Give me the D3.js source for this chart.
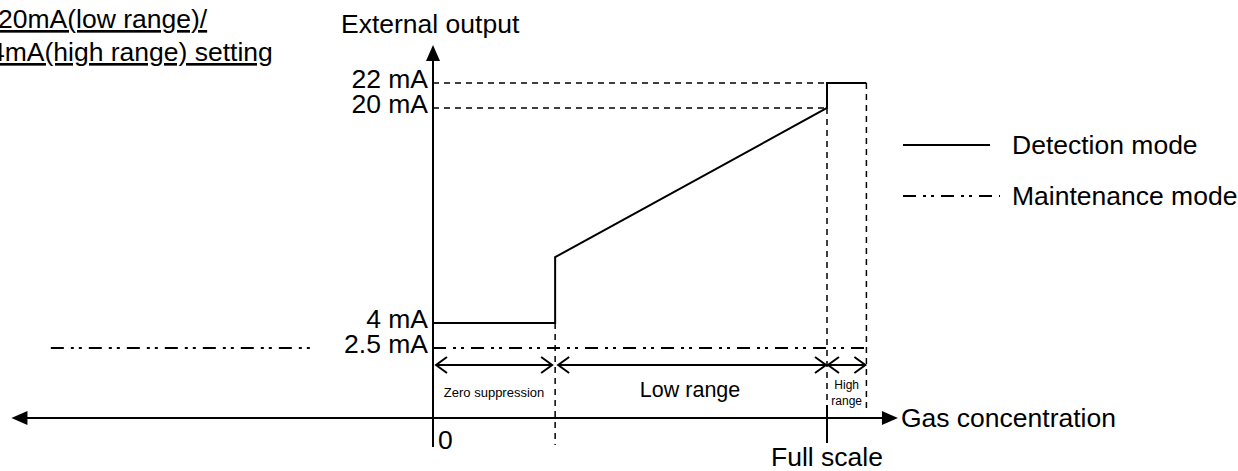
<!DOCTYPE html>
<html>
<head>
<meta charset="utf-8">
<script src="https://cdn.jsdelivr.net/npm/d3@7"></script>
<style>
html,body{margin:0;padding:0;background:#fff;}
svg{display:block;font-family:"Liberation Sans",Arial,sans-serif;}
</style>
</head>
<body>
<svg id="chart" width="1238" height="471"></svg>
<script>
// ---- data ----
const detectionConc = [0, 31, 31, 100, 100, 110];
const detectionMA   = [4, 4, 8.9, 20, 22, 22];
const maintenanceConc = [0, 110];
const maintenanceMA   = [2.5, 2.5];
const maintenanceLeftConc = [-97, -30];
const yTickValues = [22, 20, 4, 2.5];
const yTickLabels = ["22 mA", "20 mA", "4 mA", "2.5 mA"];
const zeroSuppressionEnd = 31;
const fullScale = 100;
const highRangeEnd = 110;
const rangeLabels = ["Zero suppression", "Low range", "High", "range"];
const legendLabels = ["Detection mode", "Maintenance mode"];

// ---- layout ----
const svg = d3.select("#chart");
const x = d3.scaleLinear().domain([0, 100]).range([433, 827]);
const y = d3.scaleLinear().domain([0, 2.5, 4, 20, 22]).range([418, 348, 323, 108, 83]);
const xAxisMin = -107, xAxisMax = 118;
const dashDot = "13,7,3,5,3,7";
const dash = "6,5";
const stroke = "#000";
const fs = 26.5;

const line = d3.line().x(d => x(d[0])).y(d => y(d[1]));

// top-left underlined note (clipped at left edge)
const note = svg.append("g").attr("font-size", fs).attr("fill", "#000");
note.append("text").attr("x", -2).attr("y", 28).attr("text-decoration", "underline").text("20mA(low range)/");
note.append("text").attr("x", -10).attr("y", 61).attr("text-decoration", "underline").text("4mA(high range) setting");

// title
svg.append("text").attr("x", 341).attr("y", 33).attr("font-size", fs).text("External output");

// reference dashed lines
const g = svg.append("g").attr("stroke", stroke).attr("fill", "none");
g.append("path").attr("stroke-width", 1.5).attr("stroke-dasharray", dash)
  .attr("d", line([[0, 20], [fullScale, 20]]));
g.append("path").attr("stroke-width", 1.5).attr("stroke-dasharray", dash)
  .attr("d", line([[0, 22], [fullScale, 22]]));
g.append("path").attr("stroke-width", 1.5).attr("stroke-dasharray", dash)
  .attr("d", `M${x(zeroSuppressionEnd)},${y(4)}V${y(0) + 27}`);
g.append("path").attr("stroke-width", 1.5).attr("stroke-dasharray", dash)
  .attr("d", `M${x(fullScale)},${y(20)}V${y(0) - 13}`);
g.append("path").attr("stroke-width", 1.5).attr("stroke-dasharray", dash)
  .attr("d", `M${x(highRangeEnd)},${y(22)}V${y(0) - 5}`);
g.append("path").attr("stroke-width", 2).attr("d", `M${x(fullScale)},${y(0) - 13}V${y(0) + 25}`);

// maintenance mode lines
g.append("path").attr("stroke-width", 2).attr("stroke-dasharray", dashDot)
  .attr("d", line(maintenanceConc.map((c, i) => [c, maintenanceMA[i]])));
g.append("path").attr("stroke-width", 2).attr("stroke-dasharray", dashDot)
  .attr("d", line(maintenanceLeftConc.map(c => [c, 2.5])));

// detection mode line
g.append("path").attr("stroke-width", 2)
  .attr("d", line(detectionConc.map((c, i) => [c, detectionMA[i]])));

// axes
g.append("path").attr("stroke-width", 2).attr("d", `M${x(0)},${y(0) + 29}V58`);
svg.append("path").attr("fill", stroke).attr("d", `M${x(0)},45L${x(0) - 7},61L${x(0) + 7},61Z`);
g.append("path").attr("stroke-width", 2).attr("d", `M${x(xAxisMin) + 10},${y(0)}H${x(xAxisMax) - 10}`);
svg.append("path").attr("fill", stroke)
  .attr("d", `M${x(xAxisMax)},${y(0)}L${x(xAxisMax) - 16},${y(0) - 7}L${x(xAxisMax) - 16},${y(0) + 7}Z`);
svg.append("path").attr("fill", stroke)
  .attr("d", `M${x(xAxisMin)},${y(0)}L${x(xAxisMin) + 16},${y(0) - 7}L${x(xAxisMin) + 16},${y(0) + 7}Z`);

// y tick labels
svg.append("g").attr("font-size", fs).attr("text-anchor", "end")
  .selectAll("text").data(yTickValues).join("text")
  .attr("x", x(0) - 5).attr("y", d => y(d) + 5)
  .text((d, i) => yTickLabels[i]);

// origin, full scale, gas concentration
svg.append("text").attr("x", x(0) + 5).attr("y", 449).attr("font-size", fs).text("0");
svg.append("text").attr("x", x(fullScale)).attr("y", 466).attr("font-size", fs)
  .attr("text-anchor", "middle").text("Full scale");
svg.append("text").attr("x", x(xAxisMax) + 3).attr("y", y(0) + 9).attr("font-size", fs).text("Gas concentration");

// dimension arrows
const arrY = 365;
function dimArrow(c0, c1, pad0, pad1) {
  const x0 = x(c0) + pad0, x1 = x(c1) - pad1;
  g.append("path").attr("stroke-width", 2).attr("d", `M${x0},${arrY}H${x1}`);
  g.append("path").attr("stroke-width", 2).attr("d", `M${x0 + 11},${arrY - 8}L${x0},${arrY}L${x0 + 11},${arrY + 8}`);
  g.append("path").attr("stroke-width", 2).attr("d", `M${x1 - 11},${arrY - 8}L${x1},${arrY}L${x1 - 11},${arrY + 8}`);
}
dimArrow(0, zeroSuppressionEnd, 3, 3);
dimArrow(zeroSuppressionEnd, fullScale, 3, 1);
dimArrow(fullScale, highRangeEnd, 1, 1);

svg.append("text").attr("x", (x(0) + x(zeroSuppressionEnd)) / 2).attr("y", 397)
  .attr("font-size", 13).attr("text-anchor", "middle").text(rangeLabels[0]);
svg.append("text").attr("x", (x(zeroSuppressionEnd) + x(fullScale)) / 2 - 1).attr("y", 397)
  .attr("font-size", 21.5).attr("text-anchor", "middle").text(rangeLabels[1]);
svg.append("text").attr("x", (x(fullScale) + x(highRangeEnd)) / 2).attr("y", 389)
  .attr("font-size", 12).attr("text-anchor", "middle").text(rangeLabels[2]);
svg.append("text").attr("x", (x(fullScale) + x(highRangeEnd)) / 2).attr("y", 405)
  .attr("font-size", 12).attr("text-anchor", "middle").text(rangeLabels[3]);

// legend
const lg = svg.append("g");
lg.append("path").attr("stroke", stroke).attr("stroke-width", 2).attr("d", "M903,145H990");
lg.append("path").attr("stroke", stroke).attr("stroke-width", 2).attr("stroke-dasharray", dashDot).attr("d", "M903,196H1000");
lg.selectAll("text").data(legendLabels).join("text")
  .attr("x", 1012).attr("y", (d, i) => 154 + i * 51).attr("font-size", fs).text(d => d);
</script>
</body>
</html>
